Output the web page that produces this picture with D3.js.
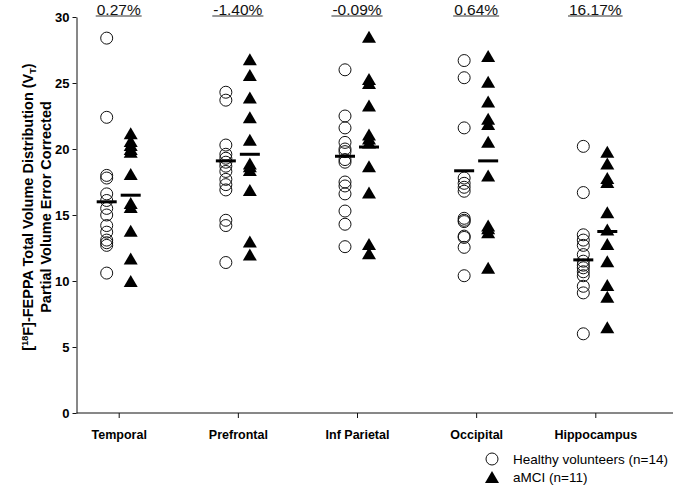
<!DOCTYPE html>
<html>
<head>
<meta charset="utf-8">
<script src="https://cdn.jsdelivr.net/npm/d3@7"></script>
<style>
  html, body { margin: 0; padding: 0; background: #fff; }
  svg { display: block; font-family: "Liberation Sans", Arial, sans-serif; }
</style>
</head>
<body>
<svg id="chart" width="675" height="486"></svg>
<script>
// ---- data ----
const categories = ["Temporal", "Prefrontal", "Inf Parietal", "Occipital", "Hippocampus"];
const pctLabels = ["0.27%", "-1.40%", "-0.09%", "0.64%", "16.17%"];

const healthyTemporal    = [28.4, 22.4, 18.0, 17.8, 16.6, 16.1, 15.5, 15.0, 14.2, 13.7, 13.1, 12.9, 12.7, 10.6];
const healthyPrefrontal  = [24.3, 23.7, 20.3, 19.6, 19.3, 19.0, 18.7, 18.3, 17.7, 17.3, 16.9, 14.6, 14.2, 11.4];
const healthyInfParietal = [26.0, 22.5, 21.6, 20.5, 20.0, 19.8, 19.2, 17.5, 17.2, 16.6, 15.3, 14.3, 12.6, 19.0];
const healthyOccipital   = [26.7, 25.4, 21.6, 17.8, 17.4, 17.1, 16.8, 14.75, 14.6, 14.5, 13.4, 13.3, 12.55, 10.4];
const healthyHippocampus = [20.2, 16.7, 13.5, 13.1, 12.7, 12.0, 11.5, 11.2, 11.0, 10.7, 10.4, 9.6, 9.1, 6.0];

const amciTemporal    = [21.2, 20.6, 20.3, 20.0, 19.8, 18.1, 15.9, 15.6, 13.8, 11.7, 10.0];
const amciPrefrontal  = [26.8, 25.6, 23.9, 22.4, 20.7, 18.9, 18.7, 18.4, 16.9, 13.0, 12.0];
const amciInfParietal = [28.5, 25.3, 25.0, 23.3, 21.1, 20.8, 20.5, 18.7, 16.7, 12.8, 12.1];
const amciOccipital   = [27.05, 25.1, 23.6, 22.3, 21.9, 20.55, 18.0, 14.2, 14.0, 13.7, 11.0];
const amciHippocampus = [19.8, 18.9, 17.8, 17.5, 15.2, 13.9, 12.8, 11.5, 9.7, 8.8, 6.5];

const healthyMeans = [16.0, 19.1, 19.45, 18.35, 11.6];
const amciMeans    = [16.5, 19.6, 20.15, 19.1, 13.75];

const yTicks = [0, 5, 10, 15, 20, 25, 30];
const legendLabels = ["Healthy volunteers (n=14)", "aMCI (n=11)"];

const healthy = [healthyTemporal, healthyPrefrontal, healthyInfParietal, healthyOccipital, healthyHippocampus];
const amci = [amciTemporal, amciPrefrontal, amciInfParietal, amciOccipital, amciHippocampus];

// ---- layout ----
const svg = d3.select("#chart");
const axisLeftX = 76.5, axisRightX = 673;
const x = d3.scalePoint().domain(categories).range([118.7, 595.3]);
const y = d3.scaleLinear().domain([0, 30]).range([413, 17]);
const groupOffset = 12;
const ink = "#111";

// y axis
const yAxis = svg.append("g")
  .attr("transform", `translate(${axisLeftX},0)`)
  .call(d3.axisLeft(y).tickValues(yTicks).tickSize(4).tickSizeOuter(0).tickFormat(d3.format("d")));
yAxis.select(".domain").attr("stroke", ink);
yAxis.selectAll(".tick line").attr("stroke", ink);
yAxis.selectAll(".tick text")
  .attr("font-family", "Liberation Sans, Arial, sans-serif")
  .attr("font-size", 13).attr("font-weight", "bold").attr("fill", "#000").attr("x", -7);

// x axis
const xAxis = svg.append("g")
  .attr("transform", `translate(0,${y(0)})`)
  .call(d3.axisBottom(x).tickSize(5).tickSizeOuter(0));
xAxis.select(".domain").remove();
xAxis.append("line").attr("x1", axisLeftX).attr("x2", axisRightX).attr("y1", 0).attr("y2", 0)
  .attr("stroke", ink).attr("stroke-width", 1);
xAxis.selectAll(".tick line").attr("stroke", ink);
xAxis.selectAll(".tick text")
  .attr("font-family", "Liberation Sans, Arial, sans-serif")
  .attr("font-size", 12.5).attr("font-weight", "bold").attr("fill", "#000").attr("y", 17);

// y axis title
const yt = svg.append("text")
  .attr("transform", `translate(33,${y(15) - 8}) rotate(-90)`)
  .attr("text-anchor", "middle")
  .attr("font-size", 14.5).attr("font-weight", "bold").attr("fill", "#000");
yt.append("tspan").text("[");
yt.append("tspan").text("18").attr("font-size", 9).attr("dy", -5);
yt.append("tspan").text("F]-FEPPA Total Volume Distribution (V").attr("dy", 5);
yt.append("tspan").text("T").attr("font-size", 9).attr("dy", 3);
yt.append("tspan").text(")").attr("dy", -3);
svg.append("text")
  .attr("transform", `translate(51,${y(15) - 8}) rotate(-90)`)
  .attr("text-anchor", "middle")
  .attr("font-size", 14.5).attr("font-weight", "bold").attr("fill", "#000")
  .text("Partial Volume Error Corrected");

// symbols
const triPath = "M0,-6L7,6L-7,6Z";
const circleR = 6;

const pts = svg.append("g");
categories.forEach((c, i) => {
  const cx = x(c) - groupOffset, tx = x(c) + groupOffset;
  pts.append("g").selectAll("circle").data(healthy[i]).join("circle")
    .attr("cx", cx).attr("cy", d => y(d)).attr("r", circleR)
    .attr("fill", "none").attr("stroke", ink).attr("stroke-width", 1);
  pts.append("g").selectAll("path").data(amci[i]).join("path")
    .attr("d", triPath).attr("transform", d => `translate(${tx},${y(d)})`)
    .attr("fill", "#000");
  // mean bars
  pts.append("line").attr("x1", cx - 10).attr("x2", cx + 10)
    .attr("y1", y(healthyMeans[i])).attr("y2", y(healthyMeans[i]))
    .attr("stroke", "#000").attr("stroke-width", 3);
  pts.append("line").attr("x1", tx - 10).attr("x2", tx + 10)
    .attr("y1", y(amciMeans[i])).attr("y2", y(amciMeans[i]))
    .attr("stroke", "#000").attr("stroke-width", 3);
});

// percentage labels with underline
const pg = svg.append("g");
categories.forEach((c, i) => {
  const t = pg.append("text").attr("x", x(c)).attr("y", 14.5)
    .attr("text-anchor", "middle").attr("font-size", 15.5).attr("fill", "#111")
    .text(pctLabels[i]);
  const w = t.node().getComputedTextLength();
  pg.append("line").attr("x1", x(c) - w / 2 - 1).attr("x2", x(c) + w / 2 + 1)
    .attr("y1", 16).attr("y2", 16).attr("stroke", "#333").attr("stroke-width", 1.2);
});

// legend
const lg = svg.append("g").attr("transform", "translate(492,459)");
lg.append("circle").attr("cx", 0).attr("cy", 0).attr("r", 6)
  .attr("fill", "none").attr("stroke", ink).attr("stroke-width", 1);
lg.append("path").attr("d", triPath).attr("transform", "translate(0,18)").attr("fill", "#000");
lg.selectAll("text").data(legendLabels).join("text")
  .attr("x", 21).attr("y", (d, i) => 5 + i * 18)
  .attr("font-size", 13.5).attr("fill", "#000").text(d => d);
</script>
</body>
</html>
